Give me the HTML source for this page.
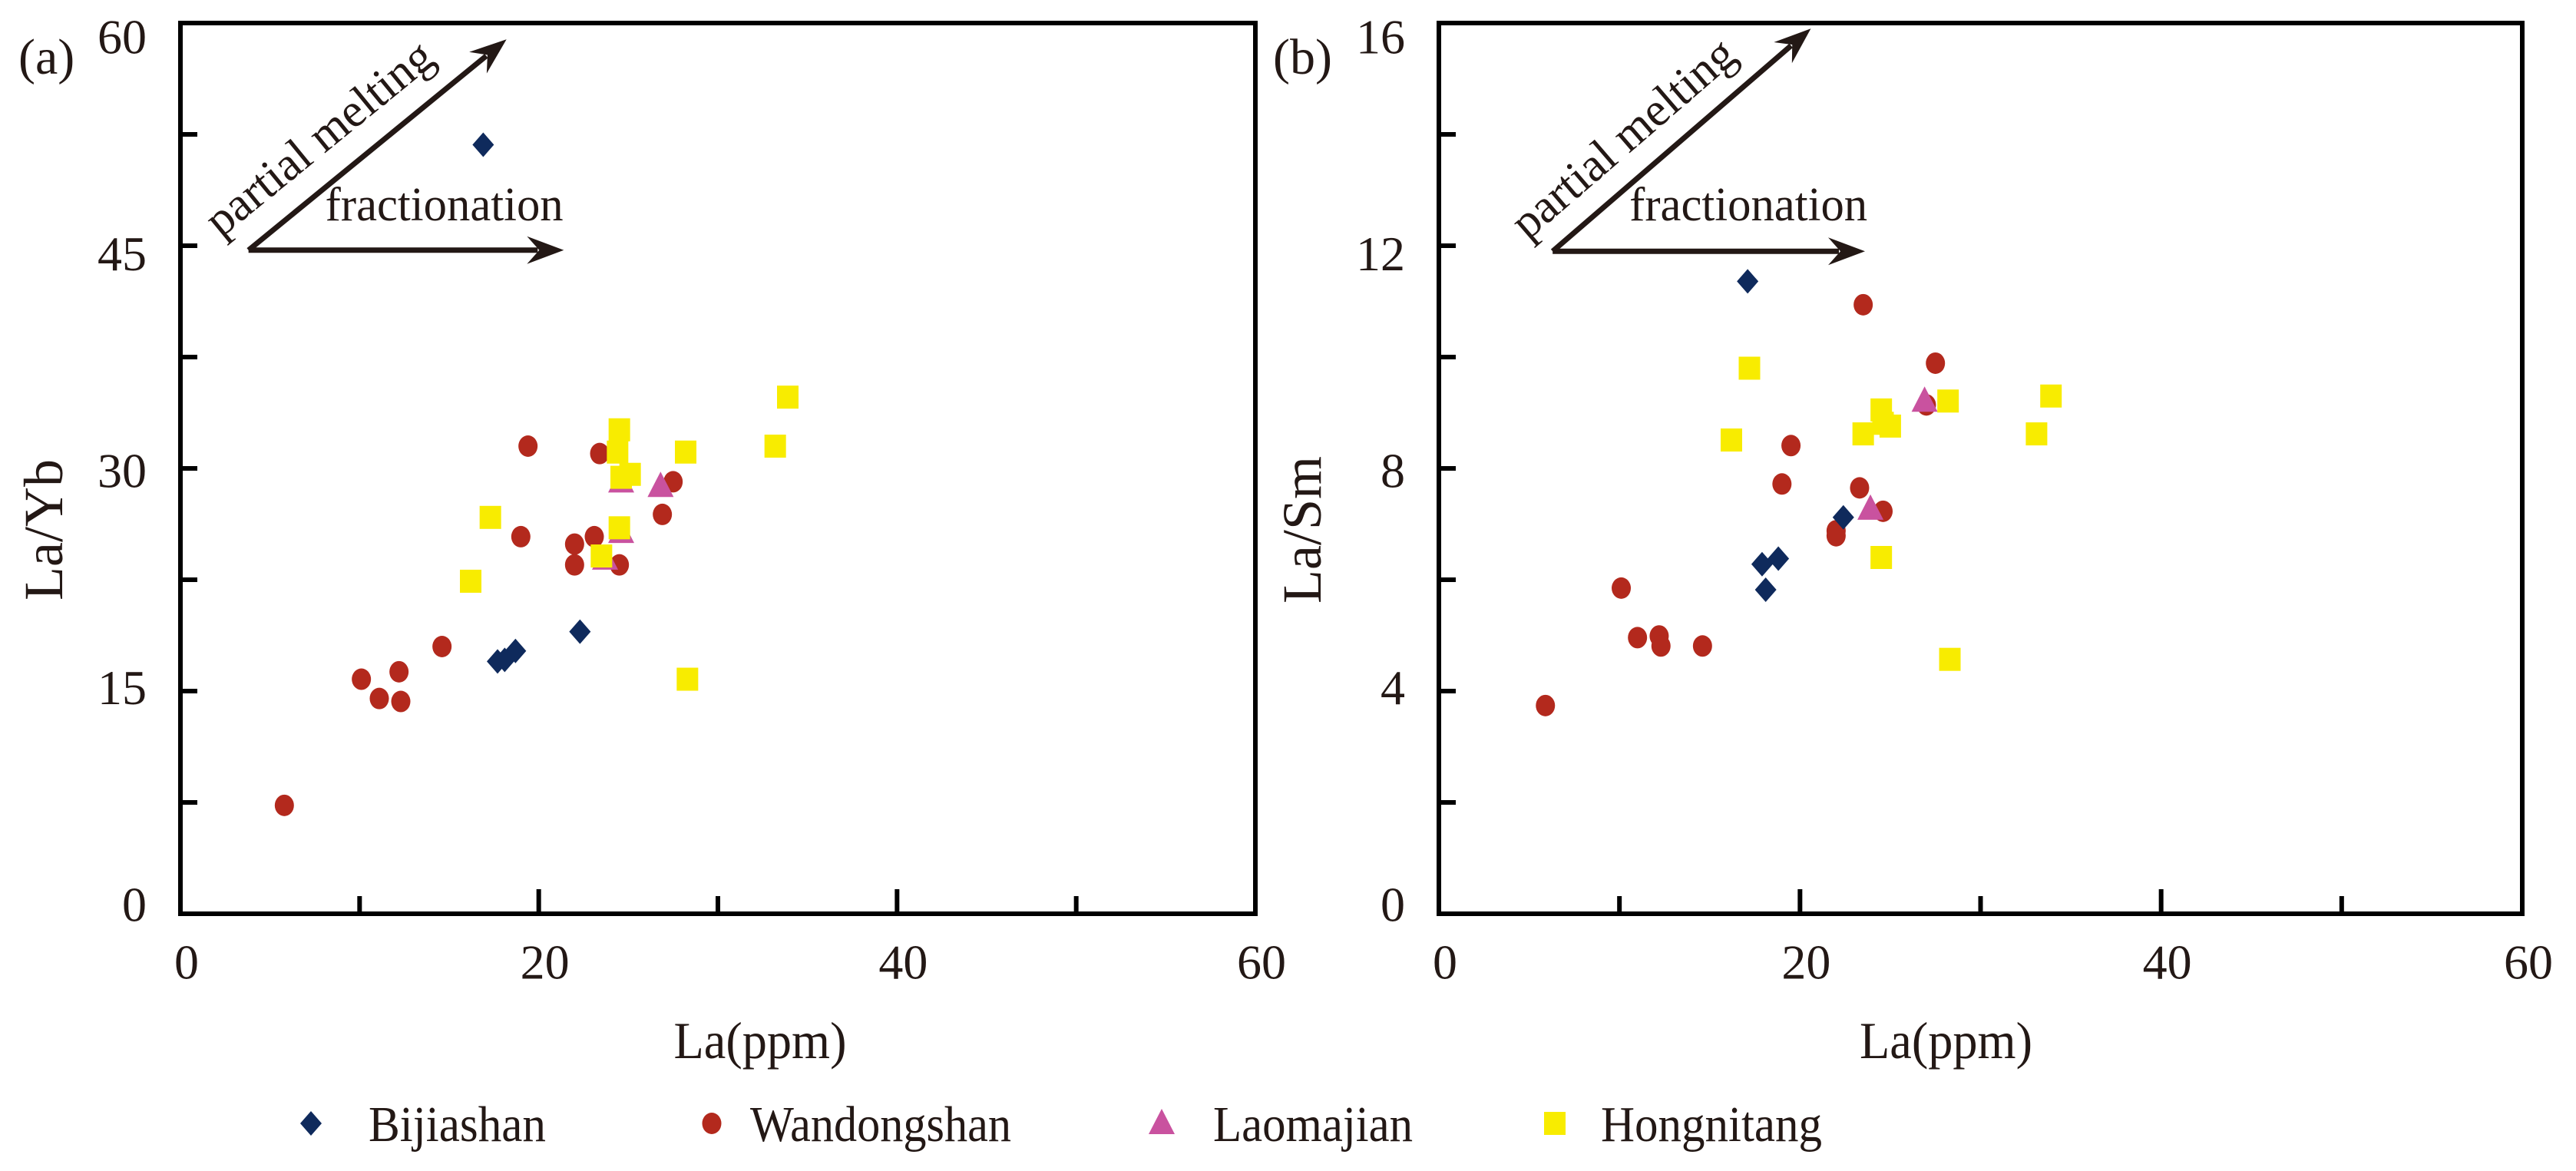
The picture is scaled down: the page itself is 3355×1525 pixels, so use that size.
<!DOCTYPE html>
<html><head><meta charset="utf-8"><style>
html,body{margin:0;padding:0;background:#fff;}
svg{display:block;font-family:"Liberation Serif",serif;}
text{font-family:"Liberation Serif",serif;}
</style></head><body>
<svg id="chart" width="3355" height="1525" viewBox="0 0 3355 1525" xmlns="http://www.w3.org/2000/svg">
<rect x="0" y="0" width="3355" height="1525" fill="#fff"/>
<g id="gA"></g>
<g id="gB"></g>
<g id="legend"></g>
</svg>
<script>
// ---- Panel (a): La vs La/Yb ----
const bijA_x = [16.9, 17.7, 18.1, 18.7, 22.3];
const bijA_y = [51.8, 17.0, 17.1, 17.7, 19.0];
const wanA_x = [5.8, 10.1, 11.1, 12.2, 12.3, 14.6, 19.4, 19.0, 22.0, 22.0, 23.1, 23.4, 24.5, 26.9, 27.5];
const wanA_y = [7.3, 15.8, 14.5, 16.3, 14.3, 18.0, 31.5, 25.4, 24.9, 23.5, 25.4, 31.0, 23.5, 26.9, 29.1];
const laoA_x = [26.8, 24.6, 24.6, 23.7];
const laoA_y = [28.8, 29.1, 25.7, 23.9];
const honA_x = [16.2, 17.3, 24.5, 24.4, 24.6, 25.1, 24.5, 23.5, 28.2, 28.3, 33.2, 33.9];
const honA_y = [22.4, 26.7, 32.6, 31.1, 29.4, 29.6, 26.0, 24.1, 31.1, 15.8, 31.5, 34.8];
const yTicksA = [0, 15, 30, 45, 60];
// ---- Panel (b): La vs La/Sm ----
const bijB_x = [17.1, 17.9, 18.8, 18.1, 22.4];
const bijB_y = [11.36, 6.28, 6.38, 5.82, 7.12];
const wanB_x = [5.9, 10.1, 11.0, 12.2, 12.3, 14.6, 19.0, 19.5, 22.0, 22.0, 23.3, 23.5, 24.6, 27.0, 27.5];
const wanB_y = [3.74, 5.85, 4.96, 4.99, 4.81, 4.81, 7.72, 8.41, 6.88, 6.79, 7.65, 10.94, 7.23, 9.14, 9.89];
const laoB_x = [23.9, 26.9];
const laoB_y = [7.27, 9.21];
const honB_x = [16.2, 17.2, 23.5, 24.5, 24.6, 25.0, 28.2, 33.1, 33.9, 24.5, 28.3];
const honB_y = [8.51, 9.80, 8.62, 9.05, 8.81, 8.76, 9.21, 8.62, 9.30, 6.40, 4.57];
const yTicksB = [0, 4, 8, 12, 16];
const xTicks = [0, 20, 40, 60];

const NS = "http://www.w3.org/2000/svg";
const COL = {bij:"#0f2a5c", wan:"#b3291d", lao:"#c9529f", hon:"#f8ec00"};
function mk(tag, attrs, parent){const e=document.createElementNS(NS,tag);for(const k in attrs)e.setAttribute(k,attrs[k]);parent.appendChild(e);return e;}

function marker(g, type, cx, cy){
  let e;
  if(type==="bij"){e=mk("polygon",{points:`${cx},${cy-16} ${cx+14},${cy} ${cx},${cy+16} ${cx-14},${cy}`,fill:COL.bij},g);}
  else if(type==="wan"){e=mk("ellipse",{cx:cx,cy:cy,rx:12.5,ry:14,fill:COL.wan},g);}
  else if(type==="lao"){e=mk("polygon",{points:`${cx},${cy-19} ${cx+17},${cy+14} ${cx-17},${cy+14}`,fill:COL.lao},g);}
  else {e=mk("rect",{x:cx-14,y:cy-15,width:28,height:30,fill:COL.hon},g);}
  return e;
}

function panel(g, cfg){
  const L=cfg.left, R=cfg.right, T=30, B=1190;
  const sx=v=>L+(v-0)/60*(R-L);
  const sy=v=>B-(v/cfg.ymax)*(B-T);
  const fr=mk("rect",{x:L,y:T,width:R-L,height:B-T,fill:"none",stroke:"#000","stroke-width":6},g);
  
  
  for(let i=0;i<=8;i++){
    const v=cfg.ymax*i/8, y=sy(v);
    const t=mk("line",{x1:L,x2:L+22,y1:y,y2:y,stroke:"#000","stroke-width":6},g);
    
    
  }
  cfg.yticks.forEach(v=>{
    const off=-12+30*(v/cfg.ymax);
    const t=mk("text",{x:L-44,y:sy(v)+off,"text-anchor":"end","dominant-baseline":"central","font-size":64,fill:"#231815"},g);
    t.textContent=v;
    
    
  });
  for(let v=10;v<60;v+=10){
    const len=(v%20===0)?32:23;
    const t=mk("line",{x1:sx(v),x2:sx(v),y1:B,y2:B-len,stroke:"#000","stroke-width":6},g);
    
    
  }
  xTicks.forEach(v=>{
    const t=mk("text",{x:sx(v)+8,y:1253,"text-anchor":"middle","dominant-baseline":"central","font-size":64,fill:"#231815"},g);
    t.textContent=v;
    
    
  });
  const xt=mk("text",{x:(L+R)/2+(cfg.id==="a"?55:-45),y:1378,"text-anchor":"middle","font-size":68,fill:"#231815",textLength:225,lengthAdjust:"spacingAndGlyphs"},g);
  xt.textContent="La(ppm)";
  
  
  const yx=L-178, yy=690;
  const yt=mk("text",{x:yx,y:yy,"text-anchor":"middle","dominant-baseline":"central","font-size":72,fill:"#231815",transform:`rotate(-90 ${yx} ${yy})`},g);
  yt.textContent=cfg.ytitle;
  
  
  const pl=mk("text",{x:cfg.labelX,y:96,"font-size":66,fill:"#231815"},g);
  pl.textContent=cfg.label;
  
  
  const ox=sx(cfg.arrow[0]), oy=sy(cfg.arrow[1]);
  const hx=sx(cfg.arrow[2]);
  const dx=sx(cfg.arrow[3]), dy=sy(cfg.arrow[4]);
  function arrow(x1,y1,x2,y2,name){
    const ang=Math.atan2(y2-y1,x2-x1), hl=42, hw=18;
    const bx=x2-hl*Math.cos(ang), by=y2-hl*Math.sin(ang);
    const l=mk("line",{x1:x1,y1:y1,x2:bx+8*Math.cos(ang),y2:by+8*Math.sin(ang),stroke:"#231815","stroke-width":7},g);
    
    
    const px=-Math.sin(ang), py=Math.cos(ang);
    const nx=bx+10*Math.cos(ang), ny=by+10*Math.sin(ang);
    const h=mk("polygon",{points:`${x2},${y2} ${bx-6*Math.cos(ang)+hw*px},${by-6*Math.sin(ang)+hw*py} ${nx},${ny} ${bx-6*Math.cos(ang)-hw*px},${by-6*Math.sin(ang)-hw*py}`,fill:"#231815"},g);
    
    
  }
  arrow(ox,oy,hx,oy,'fractionation-arrow');
  arrow(ox,oy,dx,dy,'partial-melting-arrow');
  const ft=mk("text",{x:ox+100,y:287,"font-size":62,fill:"#231815",textLength:310,lengthAdjust:"spacingAndGlyphs"},g);
  ft.textContent="fractionation";
  
  
  const ang=Math.atan2(dy-oy,dx-ox)*180/Math.PI;
  const cxp=ox+92, cyp=180;
  const pt=mk("text",{x:cxp,y:cyp,"text-anchor":"middle","dominant-baseline":"central","font-size":62,fill:"#231815",transform:`rotate(${ang} ${cxp} ${cyp})`},g);
  pt.textContent="partial melting";
  
  
  cfg.series.forEach(s=>{
    const sg=mk("g",{},g);
    
    
    s.x.forEach((xv,i)=>{
      const m=marker(sg,s.type,sx(xv),sy(s.y[i]));
      
      
    });
  });
}

panel(document.getElementById("gA"),{id:"a",left:235,right:1635,ymax:60,yticks:yTicksA,ytitle:"La/Yb",label:"(a)",labelX:24,
  arrow:[3.8,44.7,21.4,18.2,58.9],
  series:[{name:"wandongshan",type:"wan",x:wanA_x,y:wanA_y},{name:"laomajian",type:"lao",x:laoA_x,y:laoA_y},{name:"hongnitang",type:"hon",x:honA_x,y:honA_y},{name:"bijiashan",type:"bij",x:bijA_x,y:bijA_y}]});
panel(document.getElementById("gB"),{id:"b",left:1874,right:3285,ymax:16,yticks:yTicksB,ytitle:"La/Sm",label:"(b)",labelX:1658,
  arrow:[6.3,11.9,23.6,20.6,15.9],
  series:[{name:"wandongshan",type:"wan",x:wanB_x,y:wanB_y},{name:"laomajian",type:"lao",x:laoB_x,y:laoB_y},{name:"hongnitang",type:"hon",x:honB_x,y:honB_y},{name:"bijiashan",type:"bij",x:bijB_x,y:bijB_y}]});

const lg=document.getElementById("legend");
const legendItems=[["bij","Bijiashan",405,480,231],["wan","Wandongshan",927,977,340],["lao","Laomajian",1513,1580,260],["hon","Hongnitang",2025,2085,288]];
legendItems.forEach(it=>{
  const g=mk("g",{},lg);
  
  
  const m=marker(g,it[0],it[2],1463);
  
  
  const t=mk("text",{x:it[3],y:1486,"font-size":66,fill:"#231815",textLength:it[4],lengthAdjust:"spacingAndGlyphs"},g);
  t.textContent=it[1];
  
  
});
</script>
</body></html>
